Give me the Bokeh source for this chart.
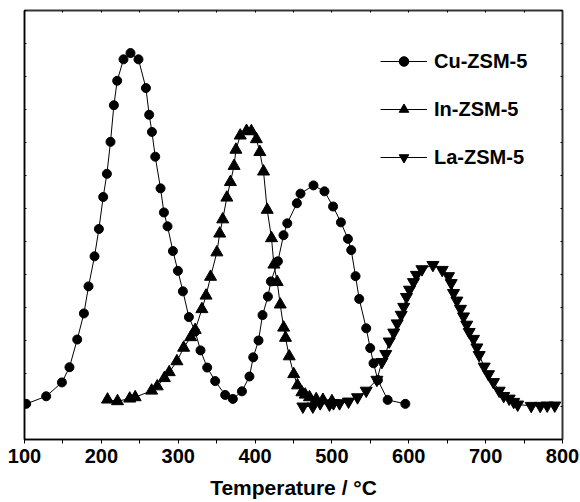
from bokeh.plotting import figure
from bokeh.models import (Range1d, LinearAxis, FixedTicker, Legend, LegendItem,
                          CustomJSTickFormatter)
from bokeh.embed import file_html
from bokeh.resources import INLINE

# ---- data (temperature in °C, signal in arbitrary units) ----
cu_x = [102.2, 128.2, 148.7, 158.5, 168.6, 177.3, 183.3, 191.1, 196.8, 202.4, 207.2, 211.9,
        216.3, 220.6, 228.8, 237.9, 248.3, 258.0, 262.2, 265.8, 270.1, 277.0, 281.4, 286.1,
        293.1, 299.6, 306.1, 313.9, 322.1, 329.0, 337.7, 348.1, 361.1, 371.1, 382.9, 392.7,
        397.6, 404.5, 409.7, 416.7, 420.6, 429.7, 437.0, 441.9, 454.4, 459.1, 476.0, 490.3,
        501.5, 511.7, 520.8, 525.1, 530.7, 535.5, 544.6, 549.8, 554.1, 559.8, 572.5, 595.5]
cu_y = [1.08, 1.31, 1.73, 2.19, 3.03, 3.82, 4.64, 5.55, 6.38, 7.35, 8.05, 9.02,
        10.13, 10.87, 11.52, 11.71, 11.52, 10.65, 9.84, 9.32, 8.57, 7.61, 6.88, 6.46,
        5.71, 5.11, 4.49, 3.71, 3.27, 2.70, 2.18, 1.77, 1.35, 1.23, 1.46, 1.91,
        2.49, 3.00, 3.77, 4.33, 4.79, 5.40, 6.19, 6.55, 7.16, 7.45, 7.70, 7.52,
        7.06, 6.58, 6.08, 5.74, 4.95, 4.26, 3.37, 2.77, 2.31, 1.80, 1.20, 1.08]

in_x = [208.0, 221.0, 236.9, 244.0, 265.4, 272.7, 282.0, 288.3, 298.3, 307.1, 316.2, 322.1,
        330.8, 336.2, 342.1, 350.3, 354.0, 357.9, 363.3, 367.9, 372.7, 375.1, 380.7, 388.9,
        395.2, 401.7, 406.2, 411.0, 415.8, 421.4, 424.5, 428.8, 432.7, 437.2, 439.6, 444.4,
        450.3, 455.2, 460.9, 465.2, 470.8, 479.5, 488.3, 500.0]
in_y = [1.21, 1.16, 1.24, 1.28, 1.48, 1.61, 1.86, 2.04, 2.37, 2.78, 3.10, 3.32,
        3.95, 4.36, 4.93, 5.67, 6.24, 6.67, 7.33, 7.80, 8.29, 8.78, 9.21, 9.35,
        9.34, 9.10, 8.71, 8.12, 6.96, 6.10, 5.30, 4.77, 4.09, 3.39, 3.08, 2.52,
        1.98, 1.64, 1.43, 1.36, 1.28, 1.22, 1.20, 1.16]

la_x = [462.2, 475.2, 484.7, 496.8, 502.0, 509.9, 521.6, 533.3, 544.6, 558.5, 565.0, 570.0,
        574.5, 580.4, 584.9, 590.1, 593.4, 597.0, 600.9, 606.1, 610.0, 617.1, 631.4, 643.5,
        651.7, 655.2, 658.2, 662.6, 667.3, 671.2, 675.4, 678.6, 684.2, 688.6, 691.6, 698.1,
        703.7, 710.2, 717.6, 723.5, 730.6, 736.5, 741.7, 759.3, 771.0, 780.1, 789.9]
la_y = [1.00, 1.00, 1.10, 1.06, 1.10, 1.10, 1.15, 1.28, 1.48, 1.81, 2.35, 2.59,
        2.97, 3.24, 3.52, 3.78, 4.02, 4.32, 4.54, 4.77, 4.99, 5.16, 5.29, 5.14,
        4.95, 4.74, 4.44, 4.21, 3.96, 3.73, 3.48, 3.26, 3.05, 2.79, 2.56, 2.21,
        1.98, 1.74, 1.48, 1.32, 1.24, 1.14, 1.06, 1.02, 1.02, 1.03, 1.03]

labels = ["Cu-ZSM-5", "In-ZSM-5", "La-ZSM-5"]
x_major = [100, 200, 300, 400, 500, 600, 700, 800]
x_minor = [150, 250, 350, 450, 550, 650, 750]
y_ticks = list(range(0, 14))

FONT = "Liberation Sans"

p = figure(width=580, height=502, x_range=Range1d(100, 800), y_range=Range1d(0, 13),
           output_backend="svg", toolbar_location=None,
           min_border_left=24, min_border_right=18, min_border_top=10, min_border_bottom=63)
p.xgrid.visible = False
p.ygrid.visible = False
p.outline_line_color = "black"
p.outline_line_width = 1.5

# bottom axis
xa = p.xaxis[0]
xa.ticker = FixedTicker(ticks=x_major, minor_ticks=x_minor)
xa.major_tick_in = 0
xa.major_tick_out = 4
xa.minor_tick_in = 0
xa.minor_tick_out = 4
xa.major_label_standoff = 5
xa.major_label_text_font = FONT
xa.major_label_text_font_style = "bold"
xa.major_label_text_font_size = "20px"
xa.major_label_text_color = "black"
xa.axis_label = "Temperature / °C"
xa.axis_label_text_font = FONT
xa.axis_label_text_font_style = "bold"
xa.axis_label_text_font_size = "21px"
xa.axis_label_text_color = "black"
xa.axis_label_standoff = 10
xa.axis_line_width = 1.5
xa.axis_line_color = "black"

empty = CustomJSTickFormatter(code="return ''")

# left axis
ya = p.yaxis[0]
ya.ticker = FixedTicker(ticks=y_ticks)
ya.formatter = empty
ya.major_tick_in = 2
ya.major_tick_out = 0
ya.minor_tick_in = 0
ya.minor_tick_out = 0
ya.major_label_standoff = 0
ya.axis_line_width = 1.5
ya.axis_line_color = "black"

# right axis
ra = LinearAxis(ticker=FixedTicker(ticks=y_ticks), formatter=empty,
                major_tick_in=2, major_tick_out=0, minor_tick_in=0, minor_tick_out=0,
                major_label_standoff=0, axis_line_width=1.5, axis_line_color="#333333")
p.add_layout(ra, "right")

# top axis
ta = LinearAxis(ticker=FixedTicker(ticks=x_major + x_minor), formatter=empty,
                major_tick_in=2, major_tick_out=0, minor_tick_in=0, minor_tick_out=0,
                major_label_standoff=0, axis_line_width=1.5, axis_line_color="#333333")
p.add_layout(ta, "above")

l1 = p.line(cu_x, cu_y, line_color="black", line_width=1)
s1 = p.scatter(cu_x, cu_y, marker="circle", size=9, fill_color="black", line_color="black")
l2 = p.line(in_x, in_y, line_color="black", line_width=1)
s2 = p.scatter(in_x, in_y, marker="triangle", size=12, fill_color="black", line_color="black")
l3 = p.line(la_x, la_y, line_color="black", line_width=1)
s3 = p.scatter(la_x, la_y, marker="inverted_triangle", size=12, fill_color="black", line_color="black")

legend = Legend(items=[LegendItem(label=labels[0], renderers=[l1, s1]),
                       LegendItem(label=labels[1], renderers=[l2, s2]),
                       LegendItem(label=labels[2], renderers=[l3, s3])],
                location=(356, 270))
legend.border_line_color = None
legend.background_fill_alpha = 0
legend.padding = 0
legend.margin = 0
legend.spacing = 24
legend.glyph_width = 47
legend.glyph_height = 24
legend.label_height = 24
legend.label_standoff = 7
legend.label_text_font = FONT
legend.label_text_font_style = "bold"
legend.label_text_font_size = "20px"
legend.label_text_color = "black"
p.add_layout(legend)

open("out.html", "w").write(file_html(p, INLINE))
